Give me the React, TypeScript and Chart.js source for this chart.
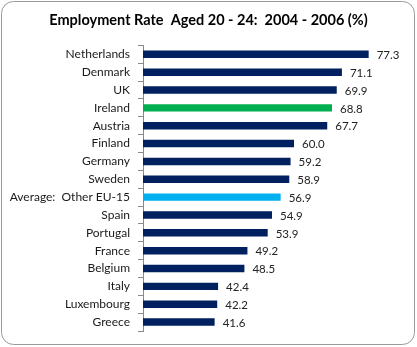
import React, { useEffect, useRef } from "react";
import { Chart, registerables } from "chart.js";

Chart.register(...registerables);

const categories = [
  "Netherlands", "Denmark", "UK", "Ireland", "Austria", "Finland", "Germany", "Sweden",
  "Average:  Other EU-15", "Spain", "Portugal", "France", "Belgium", "Italy", "Luxembourg", "Greece",
];
const values = [77.3, 71.1, 69.9, 68.8, 67.7, 60.0, 59.2, 58.9, 56.9, 54.9, 53.9, 49.2, 48.5, 42.4, 42.2, 41.6];
const barColors = categories.map((c) =>
  c === "Ireland" ? "#00B050" : c.startsWith("Average") ? "#00B0F0" : "#002060"
);
const titleText = "Employment Rate  Aged 20 - 24:  2004 - 2006 (%)";
const axisMin = 25;
const axisMax = 88.5;

const FONT = "Lato, 'Open Sans', sans-serif";

const frame = {
  id: "frame",
  beforeDraw(chart: any) {
    const ctx = chart.ctx;
    ctx.save();
    ctx.fillStyle = "#ffffff";
    ctx.fillRect(0, 0, chart.width, chart.height);
    ctx.beginPath();
    ctx.roundRect(1.5, 1.5, 413, 343, 12);
    ctx.strokeStyle = "#9a9a9a";
    ctx.lineWidth = 1;
    ctx.stroke();
    ctx.restore();
  },
};

const valueLabels = {
  id: "valueLabels",
  afterDatasetsDraw(chart: any) {
    const ctx = chart.ctx;
    const meta = chart.getDatasetMeta(0);
    ctx.save();
    ctx.font = `11.5px ${FONT}`;
    ctx.fillStyle = "#222222";
    ctx.textBaseline = "middle";
    ctx.textAlign = "left";
    meta.data.forEach((bar: any, i: number) => {
      ctx.fillText(values[i].toFixed(1), bar.x + 8, bar.y + 1);
    });
    ctx.restore();
  },
};

export default function App() {
  const ref = useRef<HTMLCanvasElement>(null);
  useEffect(() => {
    const chart = new Chart(ref.current!, {
      type: "bar",
      data: {
        labels: categories,
        datasets: [
          {
            data: values,
            backgroundColor: barColors,
            barPercentage: 0.42,
            categoryPercentage: 1,
          },
        ],
      },
      options: {
        indexAxis: "y",
        animation: false,
        responsive: false,
        layout: { padding: { left: 0, right: 0, top: 0, bottom: 16 } },
        plugins: {
          legend: { display: false },
          tooltip: { enabled: false },
          title: {
            display: true,
            text: titleText,
            color: "#000000",
            font: { family: FONT, size: 14.5, weight: "bold" },
            padding: { top: 12, bottom: 16 },
          },
        },
        scales: {
          x: { display: false, min: axisMin, max: axisMax },
          y: {
            afterFit: (scale: any) => {
              scale.width = 143;
            },
            border: { display: true, color: "#8a8a8a", width: 1 },
            grid: {
              display: true,
              drawOnChartArea: false,
              drawTicks: true,
              tickLength: 5,
              color: "#8a8a8a",
              offset: true,
            },
            ticks: {
              color: "#1a1a1a",
              padding: 8,
              font: { family: FONT, size: 12 },
              autoSkip: false,
            },
          },
        },
      },
      plugins: [frame, valueLabels],
    });
    return () => chart.destroy();
  }, []);
  return (
    <div style={{ position: "fixed", left: 0, top: 0, width: 417, height: 347 }}>
      <canvas ref={ref} width={417} height={347} style={{ display: "block" }} />
    </div>
  );
}
